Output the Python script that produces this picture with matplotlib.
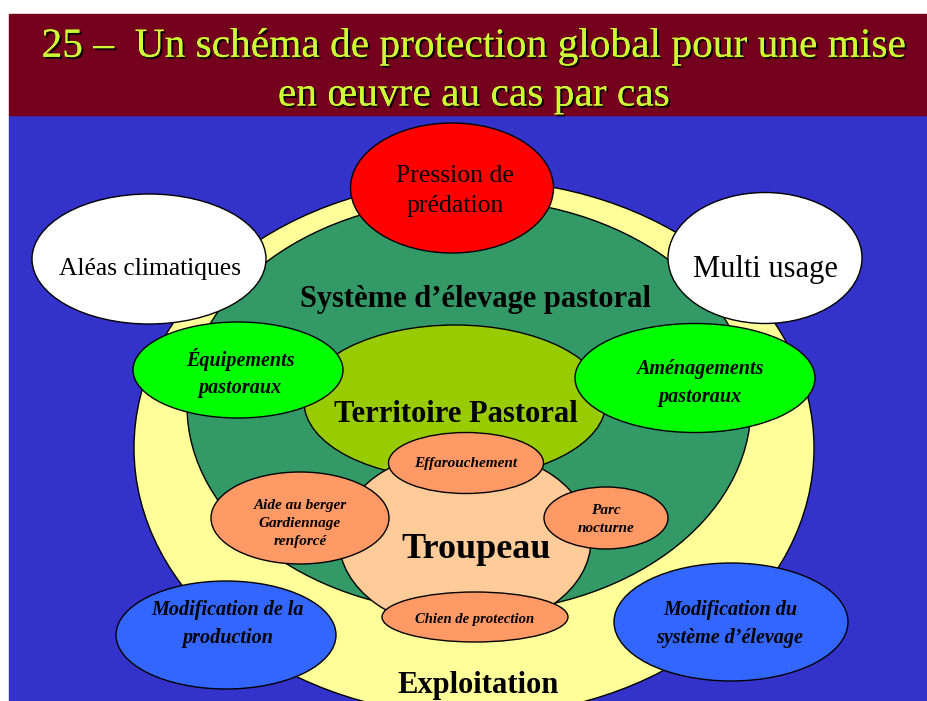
import matplotlib
matplotlib.use('Agg')
import matplotlib.pyplot as plt
from matplotlib.patches import Ellipse, Rectangle
import matplotlib.patheffects as pe

# ----------------------------------------------------------------------------
# Textes du schéma
# ----------------------------------------------------------------------------
titre = ['25 –  Un schéma de protection global pour une mise',
         'en œuvre au cas par cas']

# cercles concentriques (du plus grand au plus petit)
niveaux = ['Exploitation', 'Système d\u2019élevage pastoral',
           'Territoire Pastoral', 'Troupeau']

# moyens de protection autour du troupeau
moyens = ['Effarouchement', 'Aide au berger\nGardiennage\nrenforcé',
          'Parc\nnocturne', 'Chien de protection']

# facteurs externes
externes = ['Pression de\nprédation', 'Aléas climatiques', 'Multi usage']

# leviers pastoraux
leviers = ['Équipements\npastoraux', 'Aménagements\npastoraux']

# leviers d'exploitation
exploitation = ['Modification de la\nproduction',
                'Modification du\nsystème d\u2019élevage']

# ----------------------------------------------------------------------------
# Mise en page (coordonnées en pixels, y vers le bas)
# ----------------------------------------------------------------------------
W, H = 927, 701
SERIF = 'Liberation Serif'

fig = plt.figure(figsize=(W / 100, H / 100), dpi=100)
ax = fig.add_axes([0, 0, 1, 1])
ax.set_xlim(0, W)
ax.set_ylim(H, 0)
ax.set_aspect('auto')
ax.axis('off')

# fonds
ax.add_patch(Rectangle((9, 115), W - 9, H - 115, color='#3333CC', zorder=0))
ax.add_patch(Rectangle((9, 14), W - 9, 101, color='#75001E', zorder=0))

for i, ligne in enumerate(titre):
    ax.text(474, 47 + i * 49, ligne, ha='center', va='center', fontsize=29.8,
            family=SERIF, color='#CCFF33', zorder=20,
            path_effects=[pe.withSimplePatchShadow(offset=(1.5, -1.5),
                                                   shadow_rgbFace='black', alpha=0.9),
                          pe.Normal()])


def ellipse(cx, cy, w, h, fc, z):
    ax.add_patch(Ellipse((cx, cy), w, h, facecolor=fc, edgecolor='black',
                         linewidth=1.0, zorder=z))


def label(x, y, txt, size, weight='normal', style='normal', ls=1.5):
    ax.text(x, y, txt, ha='center', va='center', multialignment='center',
            fontsize=size, fontweight=weight, fontstyle=style, family=SERIF,
            color='black', linespacing=ls, zorder=30)


# cercles concentriques
ellipse(474, 448, 680, 536, '#FFFF99', 1)
ellipse(469, 406, 564, 414, '#339966', 2)
ellipse(455, 402, 302, 154, '#99CC00', 3)
ellipse(465, 540, 252, 180, '#FFCC99', 4)

label(478, 685, niveaux[0], 22, weight='bold')
label(476, 299, niveaux[1], 22, weight='bold')
label(456, 414, niveaux[2], 22, weight='bold')
label(476, 549, niveaux[3], 26, weight='bold')

# moyens de protection
moy_pos = [(466, 463, 155, 61), (300, 518, 178, 92),
           (606, 518, 124, 62), (475, 617, 186, 50)]
moy_txt = [(466, 463), (300, 523), (606, 520), (475, 620)]
for (cx, cy, w, h), (tx, ty), txt in zip(moy_pos, moy_txt, moyens):
    ellipse(cx, cy, w, h, '#FF9966', 5)
    label(tx, ty, txt, 10.5 if 'Chien' in txt else 11, weight='bold',
          style='italic', ls=1.5)

# facteurs externes
ext_pos = [(452, 188, 203, 130, '#FF0000'),
           (149, 259, 234, 130, 'white'),
           (765, 258, 194, 131, 'white')]
ext_txt = [(455, 191, 18.5), (150, 269, 18.4), (765, 269, 22)]
for (cx, cy, w, h, fc), (tx, ty, fs), txt in zip(ext_pos, ext_txt, externes):
    ellipse(cx, cy, w, h, fc, 6)
    label(tx, ty, txt, fs, ls=1.45)

# leviers pastoraux
lev_pos = [(238, 370, 210, 96), (695, 378, 240, 109)]
lev_txt = [(240, 373), (700, 383)]
for (cx, cy, w, h), (tx, ty), txt in zip(lev_pos, lev_txt, leviers):
    ellipse(cx, cy, w, h, '#00FF00', 7)
    label(tx, ty, txt, 14.5, weight='bold', style='italic', ls=1.5)

# leviers d'exploitation
exp_pos = [(226, 635, 220, 108), (731, 622, 234, 118)]
exp_txt = [(228, 624), (730, 624)]
for (cx, cy, w, h), (tx, ty), txt in zip(exp_pos, exp_txt, exploitation):
    ellipse(cx, cy, w, h, '#3366FF', 8)
    label(tx, ty, txt, 14.5, weight='bold', style='italic', ls=1.55)

fig.savefig('out.png', dpi=100)
plt.close(fig)
